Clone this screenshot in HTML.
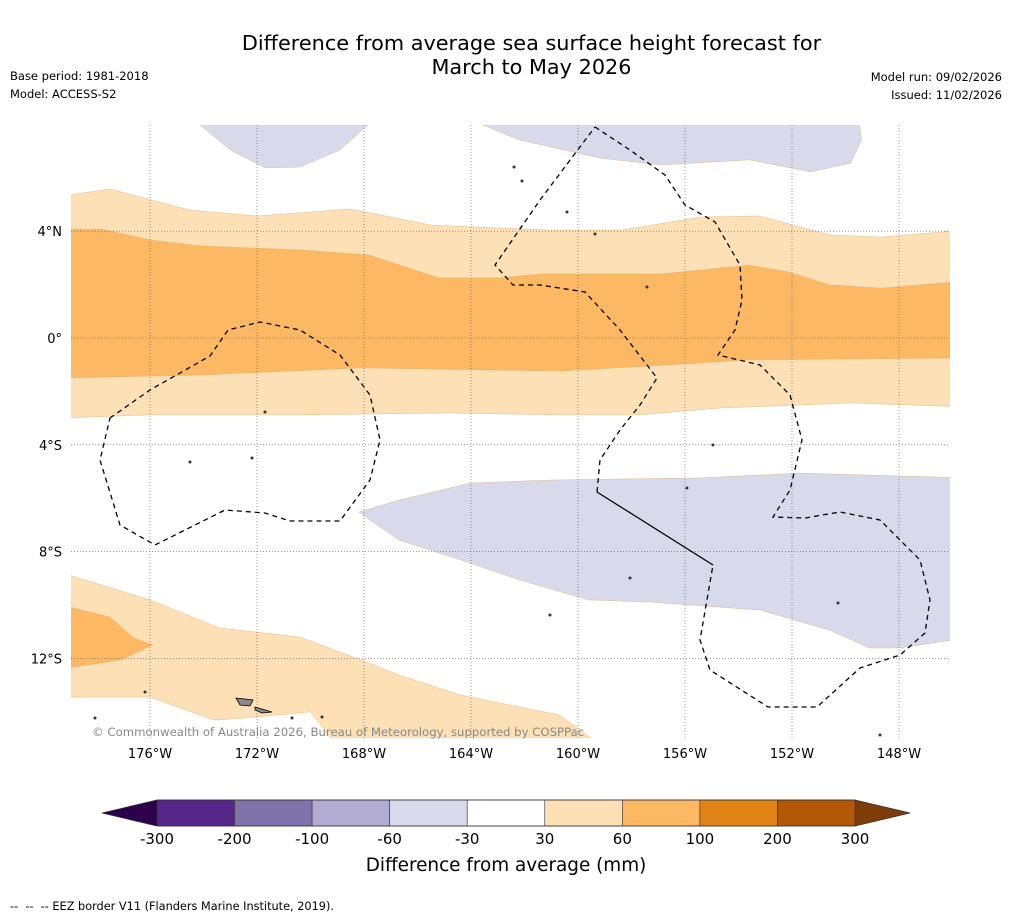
<!DOCTYPE html>
<html><head><meta charset="utf-8">
<style>
body{margin:0;background:#fff;font-family:"DejaVu Sans","Liberation Sans",sans-serif;}
#wrap{position:relative;width:1011px;height:919px;overflow:hidden;}
.t{position:absolute;white-space:nowrap;color:#000;}
svg text{font-family:"DejaVu Sans","Liberation Sans",sans-serif;}
</style></head><body>
<div id="wrap">
<div class="t" style="left:0;width:1063px;text-align:center;top:31px;font-size:20.8px;line-height:24px;">Difference from average sea surface height forecast for<br>March to May 2026</div>
<div class="t" style="left:10px;top:69px;font-size:11.5px;">Base period: 1981-2018</div>
<div class="t" style="left:10px;top:87px;font-size:11.5px;">Model: ACCESS-S2</div>
<div class="t" style="right:9px;top:70px;font-size:11.5px;">Model run: 09/02/2026</div>
<div class="t" style="right:9px;top:88px;font-size:11.5px;">Issued: 11/02/2026</div>
<svg id="map" width="1011" height="919" style="position:absolute;left:0;top:0"></svg>
<div class="t" style="left:10px;top:900px;font-size:11.3px;">--&nbsp; --&nbsp; -- EEZ border V11 (Flanders Marine Institute, 2019).</div>
</div>
<script>
const lonTicks=[-176,-172,-168,-164,-160,-156,-152,-148];
const lonTickLabels=["176°W","172°W","168°W","164°W","160°W","156°W","152°W","148°W"];
const latTicks=[4,0,-4,-8,-12];
const latTickLabels=["4°N","0°","4°S","8°S","12°S"];
const cbBounds=["-300","-200","-100","-60","-30","30","60","100","200","300"];
const cbColors=["#542788","#8073ac","#b2abd2","#d8daeb","#ffffff","#fee0b6","#fdb863","#e08214","#b35806"];
// contour boundaries [lon,lat]
const band30Top=[[-179.5,5.28],[-177.5,5.58],[-174.5,4.79],[-172,4.57],[-168.5,4.83],[-165.5,4.23],[-161,4.04],[-158.4,4.04],[-155.4,4.53],[-153.2,4.57],[-150.6,3.86],[-148.7,3.78],[-145.5,4.04]];
const band30Bot=[[-145.5,-2.58],[-149.8,-2.43],[-151.7,-2.51],[-154.7,-2.62],[-157.7,-2.88],[-160.7,-2.88],[-164.8,-2.81],[-170.4,-2.88],[-176,-2.88],[-179.5,-3.0]];
const band60Top=[[-179.5,4.08],[-177.8,4.08],[-176,3.67],[-174.1,3.45],[-170.4,3.3],[-167.8,3.11],[-165.2,2.25],[-162.9,2.25],[-161.4,2.4],[-156.9,2.4],[-153.6,2.73],[-152.1,2.47],[-150.6,1.99],[-148.7,1.87],[-145.5,2.13]];
const band60Bot=[[-145.5,-0.75],[-153.6,-0.82],[-157.3,-1.05],[-160.7,-1.24],[-168.1,-1.12],[-174.1,-1.39],[-179.5,-1.5]];
const negN1=[[-174.4,8.2],[-173.0,7.04],[-171.7,6.37],[-170.4,6.4],[-168.9,7.04],[-167.6,8.2]];
const negN2=[[-164.1,8.2],[-162.2,7.42],[-159.2,6.74],[-156.9,6.48],[-153.6,6.67],[-151.3,6.22],[-149.8,6.55],[-149.4,7.42],[-149.5,8.2]];
const negS=[[-168.2,-6.52],[-166.7,-6.07],[-164.0,-5.43],[-161.0,-5.32],[-155.4,-5.24],[-151.7,-5.06],[-145.5,-5.24],[-145.5,-11.24],[-148.0,-11.61],[-149.1,-11.61],[-150.6,-10.94],[-153.2,-10.19],[-157.3,-9.89],[-159.6,-9.81],[-162.2,-9.06],[-164.4,-8.31],[-166.7,-7.57]];
const sw30=[[-179.5,-8.73],[-176,-9.81],[-173.4,-10.86],[-170.4,-11.2],[-168.1,-12.06],[-166.7,-12.62],[-164.4,-13.37],[-160.7,-14.12],[-159.2,-15.2],[-169.1,-15.2],[-170.0,-14.0],[-172.4,-14.23],[-173.6,-14.31],[-176,-13.45],[-179.5,-13.45]];
const sw60=[[-179.5,-9.96],[-177.5,-10.45],[-176.6,-11.24],[-175.9,-11.5],[-177.1,-12.06],[-179.5,-12.43]];

const X0=71,X1=950,Y0=125,Y1=738;
const xs=lon=>150+(lon+176)*26.75;
const ys=lat=>338-lat*26.7;
const NS="http://www.w3.org/2000/svg";
const svg=document.getElementById('map');
function mk(tag,attrs,parent){const e=document.createElementNS(NS,tag);for(const k in attrs)e.setAttribute(k,attrs[k]);(parent||svg).appendChild(e);return e;}
const defs=mk('defs',{});
const cp=mk('clipPath',{id:'clip'},defs);
mk('rect',{x:X0,y:Y0,width:X1-X0,height:Y1-Y0},cp);
const g=mk('g',{'clip-path':'url(#clip)'});


const pts=a=>a.map(p=>xs(p[0]).toFixed(1)+','+ys(p[1]).toFixed(1)).join(' ');
function poly(a,fill,name){const e=mk('polygon',{points:pts(a),fill:fill,stroke:'#e0b070','stroke-width':0.4},g);

return e;}
poly(band30Top.concat(band30Bot),'#fee0b6','contour-30-60-equatorial');
poly(band60Top.concat(band60Bot),'#fdb863','contour-60-100-equatorial');
poly(negN1,'#d8daeb','contour-neg30-north-west');
poly(negN2,'#d8daeb','contour-neg30-north-east');
poly(negS,'#d8daeb','contour-neg30-south');
poly(sw30,'#fee0b6','contour-30-60-southwest');
poly(sw60,'#fdb863','contour-60-100-southwest');
// gridlines
lonTicks.forEach((lo,i)=>{const l=mk('line',{x1:xs(lo),x2:xs(lo),y1:Y0,y2:Y1,stroke:'#555','stroke-width':0.6,'stroke-dasharray':'1,2'},g);


const t=mk('text',{x:xs(lo),y:758,'font-size':13,'text-anchor':'middle'});t.textContent=lonTickLabels[i];

});
latTicks.forEach((la,i)=>{const l=mk('line',{x1:X0,x2:X1,y1:ys(la),y2:ys(la),stroke:'#555','stroke-width':0.6,'stroke-dasharray':'1,2'},g);


const t=mk('text',{x:62,y:ys(la)+5,'font-size':13,'text-anchor':'end'});t.textContent=latTickLabels[i];

});
// EEZ borders (geographic)
const eez1="M110,418 L150,390 L210,356 L228,330 L260,322 L300,330 L340,355 L370,395 L380,440 L370,480 L340,521 L290,521 L265,513 L225,510 L155,545 L120,525 L100,460 Z";
const eez2="M595,127 L630,150 L665,175 L685,205 L715,222 L740,265 L742,300 L735,330 L718,355 L760,365 L790,395 L802,440 L790,490 L773,517 L805,518 L840,512 L880,520 L920,560 L930,600 L925,633 L900,655 L860,668 L817,707 L768,707 L710,670 L700,640 L713,565";
const eez3="M597,492 L600,460 L620,430 L640,405 L657,378 L620,330 L585,292 L540,285 L513,285 L495,265 L540,200 L595,127";
[eez1,eez2,eez3].forEach((d,i)=>{const e=mk('path',{d:d,fill:'none',stroke:'#000','stroke-width':1.3,'stroke-dasharray':'5,4'},g);

});
const sl=mk('path',{d:"M597,492 L713,565",stroke:'#000','stroke-width':1.3,fill:'none'},g);


// islands
[[236,698,253,700,250,706,240,705],[255,707,272,712,262,713,255,710]].forEach(p=>{const e=mk('polygon',{points:p.join(','),fill:'#888',stroke:'#000','stroke-width':0.8},g);

});
[[595,234],[647,287],[265,412],[252,458],[190,462],[145,692],[95,718],[292,718],[322,717],[630,578],[550,615],[713,445],[687,488],[838,603],[880,735],[514,167],[522,181],[567,212]].forEach(p=>{const e=mk('circle',{cx:p[0],cy:p[1],r:1.5,fill:'#333'},g);

});
const cr=mk('text',{x:92,y:736,'font-size':11.7,fill:'#888'});cr.textContent="© Commonwealth of Australia 2026, Bureau of Meteorology, supported by COSPPac";


// colorbar
const cbL=157,cbR=855,cbT=800,cbB=826,w=(cbR-cbL)/cbColors.length;
const cb=mk('g',{});


const la=mk('polygon',{points:`102,813 ${cbL},${cbT} ${cbL},${cbB}`,fill:'#2d004b'},cb);


const ra=mk('polygon',{points:`910,813 ${cbR},${cbT} ${cbR},${cbB}`,fill:'#7f3b08'},cb);


cbColors.forEach((c,i)=>{const r=mk('rect',{x:cbL+i*w,y:cbT,width:w,height:cbB-cbT,fill:c,stroke:'#333','stroke-width':0.6},cb);

});
const ol=mk('polygon',{points:`102,813 ${cbL},${cbT} ${cbR},${cbT} 910,813 ${cbR},${cbB} ${cbL},${cbB}`,fill:'none',stroke:'#333','stroke-width':0.8},cb);


cbBounds.forEach((b,i)=>{const t=mk('text',{x:cbL+i*w,y:844,'font-size':15,'text-anchor':'middle'},cb);t.textContent=b;

});
const ct=mk('text',{x:506,y:871,'font-size':18.4,'text-anchor':'middle'});ct.textContent="Difference from average (mm)";


</script>
</body></html>
